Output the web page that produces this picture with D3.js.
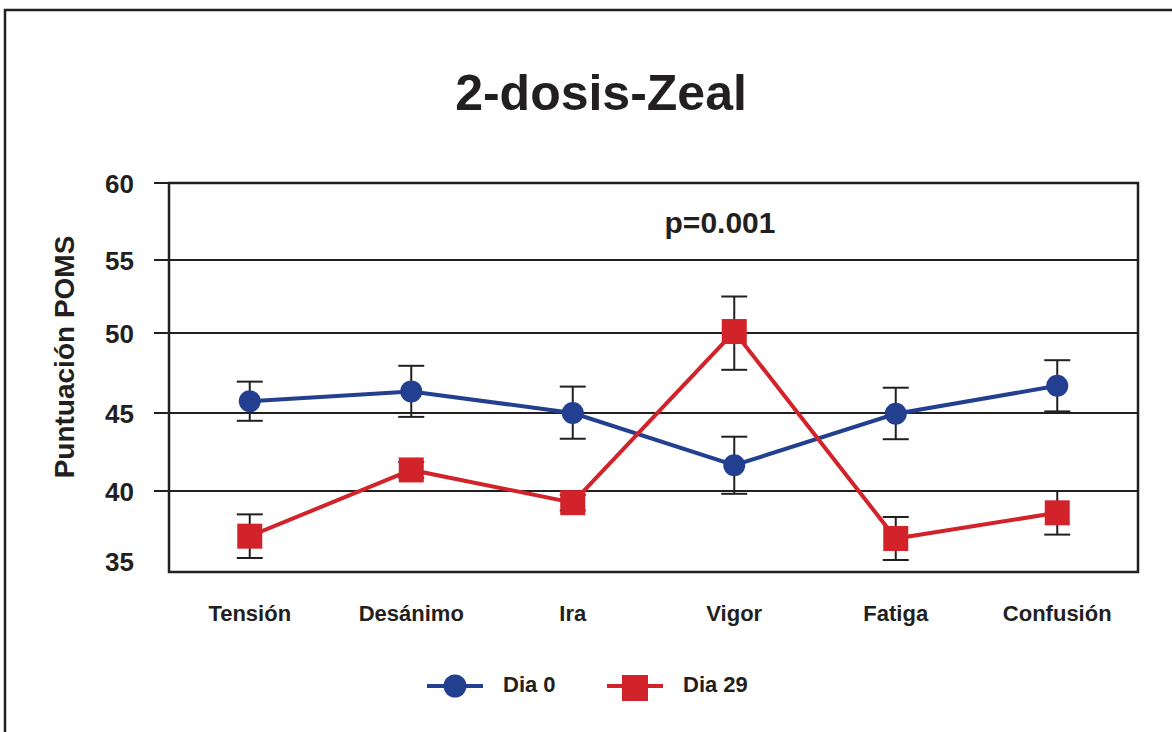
<!DOCTYPE html>
<meta charset="utf-8">
<style>
body {
  margin: 0;
  background: #fff;
  font-family: "Liberation Sans", Arial, sans-serif;
}
.grid line {
  stroke: #231f20;
  stroke-width: 2px;
}
.err {
  stroke: #231f20;
  stroke-width: 2px;
}
</style>
<body>
<script src="https://cdn.jsdelivr.net/npm/d3@7"></script>
<script>

var categories = ["Tensión", "Desánimo", "Ira", "Vigor", "Fatiga", "Confusión"];
var dia0 = [45.73, 46.35, 45.0, 41.65, 44.95, 46.7];
var dia0Err = [1.23, 1.6, 1.65, 1.83, 1.63, 1.6];
var dia29 = [37.1, 41.35, 39.25, 50.1, 36.95, 38.6];
var dia29Err = [1.4, 0.5, 0.5, 2.4, 1.38, 1.4];
var yTicks = [35, 40, 45, 50, 55, 60];
var seriesNames = ["Dia 0", "Dia 29"];

var W = 1172, H = 732;
var plotLeft = 169, plotRight = 1138, plotTop = 183, plotBottom = 572;
var blue = "#233f90", red = "#d2232a", ink = "#231f20";

var svg = d3.select("body").append("svg")
    .attr("width", W)
    .attr("height", H);

// outer frame, runs off the right and bottom of the picture
svg.append("rect")
    .attr("x", 5).attr("y", 10)
    .attr("width", 1300).attr("height", 900)
    .attr("fill", "none")
    .attr("stroke", ink)
    .attr("stroke-width", 2.5);

var x = d3.scalePoint()
    .domain(categories)
    .range([plotLeft, plotRight])
    .padding(0.5);

// the original grid is slightly uneven, so a polylinear scale follows it
var y = d3.scaleLinear()
    .domain([34.8, 40, 45, 50, 55, 60])
    .range([plotBottom, 491, 413, 333, 260, plotTop]);

svg.append("text")
    .attr("x", 601).attr("y", 110)
    .attr("text-anchor", "middle")
    .style("font-size", "50px")
    .style("font-weight", "bold")
    .attr("fill", ink)
    .text("2-dosis-Zeal");

// gridlines with a short stub to the left of the axis
var grid = svg.append("g").attr("class", "grid");
grid.selectAll("line")
    .data(yTicks.filter(function(d) { return d > 35; }))
  .enter().append("line")
    .attr("x1", plotLeft - 15)
    .attr("x2", plotRight)
    .attr("y1", function(d) { return y(d); })
    .attr("y2", function(d) { return y(d); });

svg.append("rect")
    .attr("x", plotLeft).attr("y", plotTop)
    .attr("width", plotRight - plotLeft).attr("height", plotBottom - plotTop)
    .attr("fill", "none")
    .attr("stroke", ink)
    .attr("stroke-width", 2.5);

svg.selectAll(".ytick")
    .data(yTicks)
  .enter().append("text")
    .attr("class", "ytick")
    .attr("x", 134)
    .attr("y", function(d) { return y(d) + (d == 35 ? 2 : 10); })
    .attr("text-anchor", "end")
    .style("font-size", "26px")
    .style("font-weight", "bold")
    .attr("fill", ink)
    .text(function(d) { return d; });

svg.selectAll(".xtick")
    .data(categories)
  .enter().append("text")
    .attr("class", "xtick")
    .attr("x", function(d) { return x(d); })
    .attr("y", 621)
    .attr("text-anchor", "middle")
    .style("font-size", "22px")
    .style("font-weight", "bold")
    .attr("fill", ink)
    .text(function(d) { return d; });

svg.append("text")
    .attr("transform", "translate(74,357) rotate(-90)")
    .attr("text-anchor", "middle")
    .style("font-size", "28px")
    .style("font-weight", "bold")
    .attr("fill", ink)
    .text("Puntuación POMS");

svg.append("text")
    .attr("x", 720).attr("y", 233)
    .attr("text-anchor", "middle")
    .style("font-size", "30px")
    .style("font-weight", "bold")
    .attr("fill", ink)
    .text("p=0.001");

var series = [
  {name: seriesNames[0], values: dia0, errs: dia0Err, color: blue, shape: "circle"},
  {name: seriesNames[1], values: dia29, errs: dia29Err, color: red, shape: "square"}
];

var line = d3.line()
    .x(function(d, i) { return x(categories[i]); })
    .y(function(d) { return y(d); });

// error bars behind everything else
series.forEach(function(s) {
  var g = svg.append("g").attr("class", "err");
  s.values.forEach(function(v, i) {
    var cx = x(categories[i]);
    var hi = y(v + s.errs[i]), lo = y(v - s.errs[i]);
    g.append("line").attr("x1", cx).attr("x2", cx).attr("y1", hi).attr("y2", lo);
    g.append("line").attr("x1", cx - 13).attr("x2", cx + 13).attr("y1", hi).attr("y2", hi);
    g.append("line").attr("x1", cx - 13).attr("x2", cx + 13).attr("y1", lo).attr("y2", lo);
  });
});

series.forEach(function(s) {
  svg.append("path")
      .datum(s.values)
      .attr("d", line)
      .attr("fill", "none")
      .attr("stroke", s.color)
      .attr("stroke-width", 4);

  if (s.shape == "circle") {
    svg.selectAll(".pt0")
        .data(s.values)
      .enter().append("circle")
        .attr("cx", function(d, i) { return x(categories[i]); })
        .attr("cy", function(d) { return y(d); })
        .attr("r", 11)
        .attr("fill", s.color);
  } else {
    svg.selectAll(".pt1")
        .data(s.values)
      .enter().append("rect")
        .attr("x", function(d, i) { return x(categories[i]) - 12.5; })
        .attr("y", function(d) { return y(d) - 12.5; })
        .attr("width", 25)
        .attr("height", 25)
        .attr("fill", s.color);
  }
});

// legend
var legX = [427, 607];
series.forEach(function(s, i) {
  var lx = legX[i], ly = 686;
  svg.append("line")
      .attr("x1", lx).attr("x2", lx + 56)
      .attr("y1", ly).attr("y2", ly)
      .attr("stroke", s.color)
      .attr("stroke-width", 4);
  if (s.shape == "circle") {
    svg.append("circle").attr("cx", lx + 28).attr("cy", ly).attr("r", 11.5).attr("fill", s.color);
  } else {
    svg.append("rect").attr("x", lx + 15).attr("y", ly - 11).attr("width", 26).attr("height", 26).attr("fill", s.color);
  }
  svg.append("text")
      .attr("x", lx + 76).attr("y", 692)
      .style("font-size", "22px")
      .style("font-weight", "bold")
      .attr("fill", ink)
      .text(s.name);
});

</script>
